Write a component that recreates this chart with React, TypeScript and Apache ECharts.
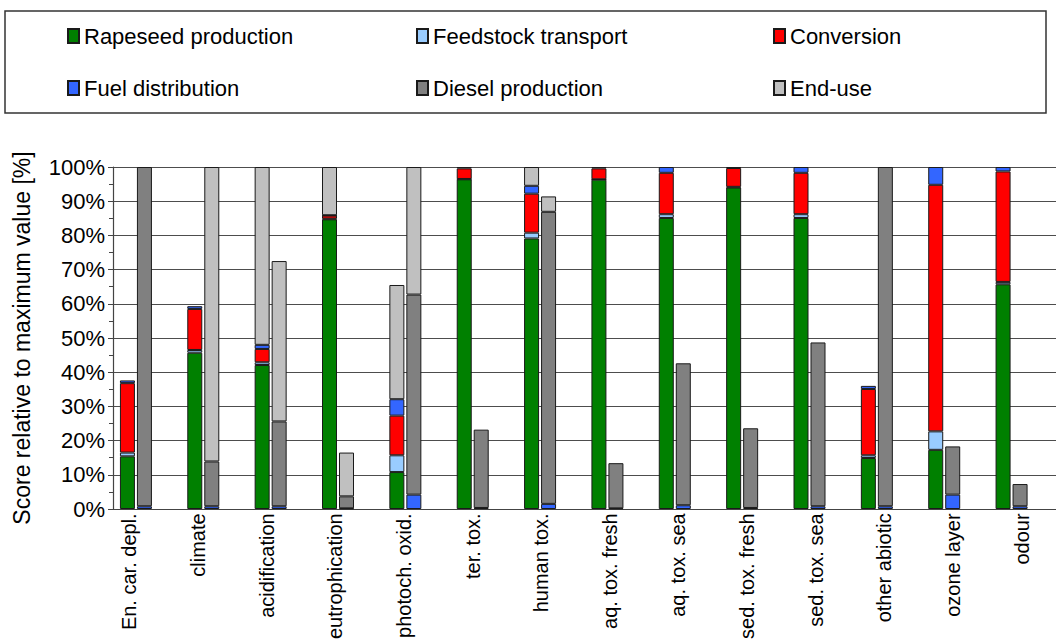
import React, { useEffect, useRef } from "react";
import * as echarts from "echarts";

const categories = [
  "En. car. depl.", "climate", "acidification", "eutrophication", "photoch. oxid.",
  "ter. tox.", "human tox.", "aq. tox. fresh", "aq. tox. sea", "sed. tox. fresh",
  "sed. tox. sea", "other abiotic", "ozone layer", "odour",
];
const yTicks = [0, 10, 20, 30, 40, 50, 60, 70, 80, 90, 100];

// Rapeseed methyl ester (left bar of each pair)
const rapeseedProduction = [15.4, 45.7, 42.1, 84.7, 10.8, 96.4, 79.1, 96.3, 85.1, 94.0, 85.1, 14.9, 17.3, 65.7];
const feedstockTransport = [1.1, 0.8, 0.8, 0.2, 4.9, 0.1, 1.7, 0.1, 1.1, 0.2, 1.1, 0.8, 5.4, 0.7];
const conversion = [20.3, 12.0, 3.9, 0.9, 11.6, 3.1, 11.4, 3.2, 12.1, 5.5, 12.1, 19.4, 72.1, 32.3];
const fuelDistributionBio = [0.8, 0.8, 1.2, 0.1, 4.8, 0.4, 2.3, 0.4, 1.7, 0.3, 1.7, 0.9, 5.2, 1.3];
const endUseBio = [0, 0, 52.0, 14.1, 33.4, 0, 5.5, 0, 0, 0, 0, 0, 0, 0];

// Fossil diesel (right bar of each pair)
const fuelDistributionDiesel = [0.8, 0.8, 0.8, 0.2, 4.2, 0.3, 1.5, 0.2, 1.1, 0.3, 0.8, 0.8, 4.2, 0.8];
const dieselProduction = [99.2, 13.1, 24.8, 3.5, 58.5, 22.9, 85.4, 13.2, 41.5, 23.3, 47.9, 99.2, 14.1, 6.5];
const endUseDiesel = [0, 86.1, 46.9, 12.8, 37.3, 0, 4.5, 0, 0, 0, 0, 0, 0, 0];

const COLORS: Record<string, string> = {
  "Rapeseed production": "#008000",
  "Feedstock transport": "#99CCFF",
  "Conversion": "#FF0000",
  "Fuel distribution": "#3366FF",
  "Diesel production": "#808080",
  "End-use": "#C0C0C0",
};

const FONT = "Liberation Sans, Arial, sans-serif";

function bar(name: string, stack: string, values: number[]) {
  return {
    type: "bar",
    name,
    stack,
    xAxisIndex: 0,
    yAxisIndex: 0,
    barWidth: 15,
    barGap: "13.3%",
    data: values.map((v) => (v > 0 ? v : null)),
    itemStyle: { color: COLORS[name], borderColor: "#1a1a1a", borderWidth: 1 },
    emphasis: { disabled: true },
  };
}

export default function App() {
  const ref = useRef<HTMLDivElement>(null);
  useEffect(() => {
    if (!ref.current) return;
    const chart = echarts.init(ref.current, undefined, { renderer: "svg" });
    const legendCommon = {
      orient: "vertical",
      top: 20,
      icon: "rect",
      itemWidth: 11,
      itemHeight: 14,
      itemGap: 30,
      selectedMode: false,
      textStyle: { fontFamily: FONT, fontSize: 22, color: "#000" },
    };
    chart.setOption({
      animation: false,
      backgroundColor: "#fff",
      graphic: [
        {
          type: "rect",
          shape: { x: 5, y: 11, width: 1041, height: 102 },
          style: { fill: "none", stroke: "#333", lineWidth: 1.5 },
        },
      ],
      legend: [
        { ...legendCommon, left: 62, data: ["Rapeseed production", "Fuel distribution"] },
        { ...legendCommon, left: 411, data: ["Feedstock transport", "Diesel production"] },
        { ...legendCommon, left: 768, data: ["Conversion", "End-use"] },
      ],
      grid: [
        { left: 113, top: 167, width: 964, bottom: 133 },
        { left: 95, top: 167, width: 964, bottom: 133 },
      ],
      xAxis: [
        {
          type: "category",
          gridIndex: 0,
          data: categories,
          axisLine: { lineStyle: { color: "#444", width: 1.2 } },
          axisTick: { show: false },
          axisLabel: { show: false },
        },
        {
          type: "category",
          gridIndex: 1,
          data: categories,
          axisLine: { show: false },
          axisTick: { show: false },
          axisLabel: {
            rotate: 90,
            margin: 14,
            fontFamily: FONT,
            fontSize: 20,
            color: "#000",
            interval: 0,
          },
        },
      ],
      yAxis: [
        {
          type: "value",
          gridIndex: 0,
          min: yTicks[0],
          max: yTicks[yTicks.length - 1],
          interval: 10,
          name: "Score relative to maximum value [%]",
          nameLocation: "middle",
          nameGap: 80,
          nameTextStyle: { fontFamily: FONT, fontSize: 23, color: "#000" },
          axisLine: { show: true, lineStyle: { color: "#444", width: 1.2 } },
          axisTick: { show: true, length: 5, lineStyle: { color: "#444" } },
          minorTick: { show: true, splitNumber: 2, length: 4, lineStyle: { color: "#444" } },
          splitLine: { show: true, lineStyle: { color: "#4d4d4d", width: 1.2 } },
          axisLabel: {
            formatter: "{value}%",
            fontFamily: FONT,
            fontSize: 22,
            color: "#000",
            margin: 8,
          },
        },
        {
          type: "value",
          gridIndex: 1,
          min: 0,
          max: 100,
          show: false,
        },
      ],
      series: [
        bar("Rapeseed production", "bio", rapeseedProduction),
        bar("Feedstock transport", "bio", feedstockTransport),
        bar("Conversion", "bio", conversion),
        bar("Fuel distribution", "bio", fuelDistributionBio),
        bar("End-use", "bio", endUseBio),
        bar("Fuel distribution", "diesel", fuelDistributionDiesel),
        bar("Diesel production", "diesel", dieselProduction),
        bar("End-use", "diesel", endUseDiesel),
        {
          type: "bar",
          name: "pad",
          stack: "pad",
          xAxisIndex: 0,
          yAxisIndex: 0,
          barWidth: 19.5,
          barGap: "13.3%",
          data: categories.map(() => null),
          silent: true,
        },
      ],
    });
    return () => chart.dispose();
  }, []);
  return (
    <div
      ref={ref}
      style={{ position: "fixed", left: 0, top: 0, width: 1056, height: 642, background: "#fff" }}
    />
  );
}
